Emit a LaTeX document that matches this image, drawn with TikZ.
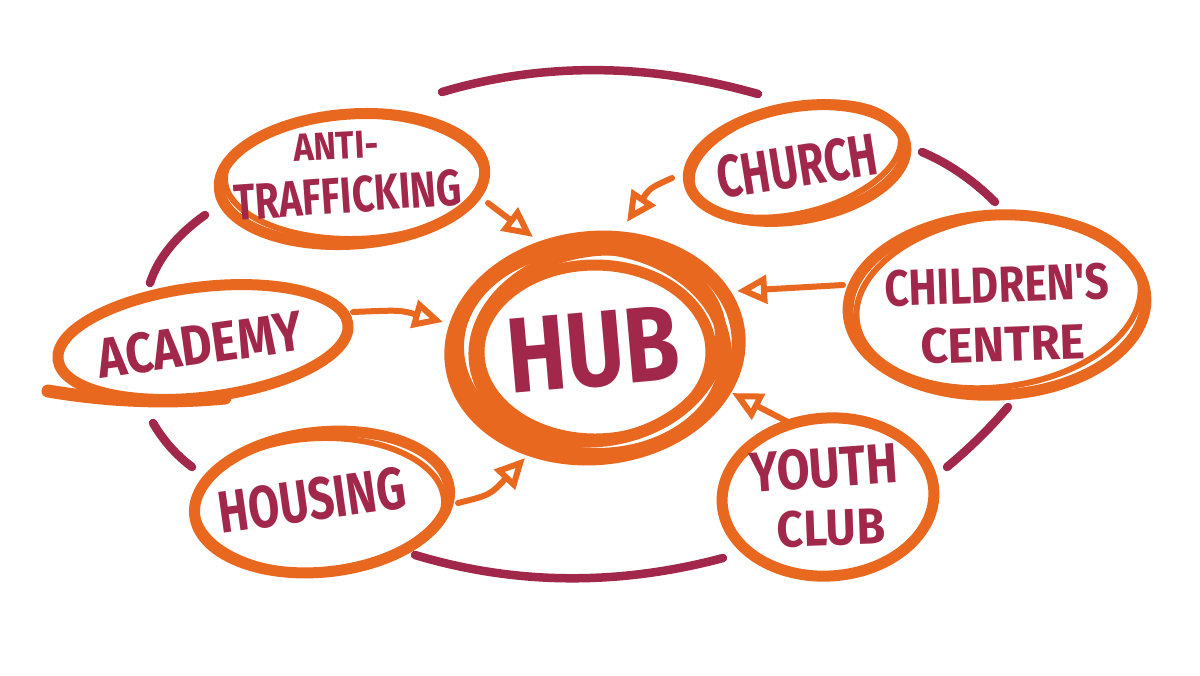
\documentclass[tikz,border=0pt]{standalone}
\usepackage{fontspec}
\usepackage{graphicx}
\newfontfamily\hand{Fira Sans}
\usetikzlibrary{arrows.meta}
\definecolor{org}{HTML}{E9681F}
\definecolor{mar}{HTML}{A1284A}
\newcommand\lbl[3]{\resizebox{#1cm}{#2cm}{\hand\bfseries #3}}
\begin{document}
\begin{tikzpicture}[x=0.01cm,y=-0.01cm,
  ring/.style={draw=mar,line width=0.085cm,line cap=round},
  oval/.style={draw=org,line width=0.11cm},
  thin oval/.style={draw=org,line width=0.06cm},
  arr/.style={draw=org,line width=0.06cm,line cap=round,
    -{Triangle[open,length=0.30cm,width=0.28cm]}},
  txt/.style={inner sep=0pt,text=mar}]
\useasboundingbox (0,0) rectangle (1200,675);
\fill[white] (0,0) rectangle (1200,675);

% outer maroon ring, in segments
\draw[ring] (442,92) .. controls (543,62) and (649,63) .. (758,94);
\draw[ring] (922,152) .. controls (948,163) and (973,180) .. (995,202);
\draw[ring] (1008,407) .. controls (991,427) and (971,447) .. (947,467);
\draw[ring] (723,558) .. controls (618,586) and (515,585) .. (415,555);
\draw[ring] (192,467) .. controls (176,455) and (163,440) .. (153,423);
\draw[ring] (150,283) .. controls (158,258) and (177,235) .. (205,215);

% centres
\coordinate (hub) at (595,348);
\coordinate (anti) at (352,179);
\coordinate (church) at (797,163);
\coordinate (academy) at (203,342);
\coordinate (housing) at (322,502);
\coordinate (children) at (997,305);
\coordinate (youth) at (828,497);

% HUB scribbled rings
\draw[oval,line width=0.14cm,rotate around={6:(hub)}] (hub) ellipse [x radius=144, y radius=110];
\draw[oval,line width=0.12cm,rotate around={-4:(hub)}] ([shift={(-3,3)}]hub) ellipse [x radius=134, y radius=103];
\draw[oval,line width=0.12cm,rotate around={10:(hub)}] ([shift={(3,-2)}]hub) ellipse [x radius=124, y radius=95];
\draw[oval,line width=0.11cm,rotate around={0:(hub)}] ([shift={(0,4)}]hub) ellipse [x radius=116, y radius=87];

% satellite ovals
\draw[oval,rotate around={4:(anti)}] (anti) ellipse [x radius=133, y radius=65];
\draw[thin oval,rotate around={1:(anti)}] ([shift={(2,-2)}]anti) ellipse [x radius=129, y radius=62];

\draw[oval,rotate around={10:(church)}] (church) ellipse [x radius=110, y radius=56];
\draw[thin oval,rotate around={14:(church)}] ([shift={(0,-3)}]church) ellipse [x radius=107, y radius=53];

\draw[oval,rotate around={7:(academy)}] (academy) ellipse [x radius=146, y radius=55];
\draw[oval,line width=0.13cm,line cap=round] (48,391) .. controls (90,398) and (150,405) .. (225,398);

\draw[oval,rotate around={6:(housing)}] (housing) ellipse [x radius=128, y radius=70];
\draw[thin oval,rotate around={2:(housing)}] ([shift={(-2,3)}]housing) ellipse [x radius=124, y radius=67];

\draw[oval,rotate around={3:(children)}] (children) ellipse [x radius=149, y radius=90];
\draw[thin oval,rotate around={8:(children)}] ([shift={(2,-3)}]children) ellipse [x radius=143, y radius=85];

\draw[oval,rotate around={4:(youth)}] (youth) ellipse [x radius=106, y radius=79];

% arrows
\coordinate (antiout) at (488,203);  \coordinate (hubin1) at (533,237);
\coordinate (churchout) at (672,178); \coordinate (hubin2) at (627,222);
\coordinate (acadout) at (353,312);  \coordinate (hubin3) at (443,322);
\coordinate (childout) at (843,285); \coordinate (hubin4) at (737,291);
\coordinate (youthout) at (788,422); \coordinate (hubin5) at (732,393);
\coordinate (housout) at (458,503);  \coordinate (hubin6) at (525,458);
\draw[arr] (antiout) -- (hubin1);
\draw[arr] (churchout) .. controls (650,188) .. (hubin2);
\draw[arr] (acadout) .. controls (400,310) .. (hubin3);
\draw[arr] (childout) -- (hubin4);
\draw[arr] (youthout) -- (hubin5);
\draw[arr] (housout) .. controls (490,495) .. (hubin6);

% labels
\node[txt,rotate=5] (thub) at (593,350) {\lbl{1.72}{0.74}{HUB}};
\node[txt,rotate=3] (tanti1) at (336,146) {\lbl{0.85}{0.27}{ANTI-}};
\node[txt,rotate=4] (tanti2) at (348,195) {\lbl{2.28}{0.36}{TRAFFICKING}};
\node[txt,rotate=9] (tchurch) at (797,166) {\lbl{1.62}{0.42}{CHURCH}};
\node[txt,rotate=8] (tacad) at (200,345) {\lbl{2.06}{0.40}{ACADEMY}};
\node[txt,rotate=8] (thous) at (312,500) {\lbl{1.88}{0.42}{HOUSING}};
\node[txt,rotate=2] (tchild1) at (997,285) {\lbl{2.25}{0.36}{CHILDREN'S}};
\node[txt,rotate=2] (tchild2) at (1003,344) {\lbl{1.65}{0.35}{CENTRE}};
\node[txt,rotate=4] (tyouth1) at (824,468) {\lbl{1.48}{0.40}{YOUTH}};
\node[txt,rotate=2] (tyouth2) at (831,528) {\lbl{1.08}{0.36}{CLUB}};
\end{tikzpicture}
\end{document}
